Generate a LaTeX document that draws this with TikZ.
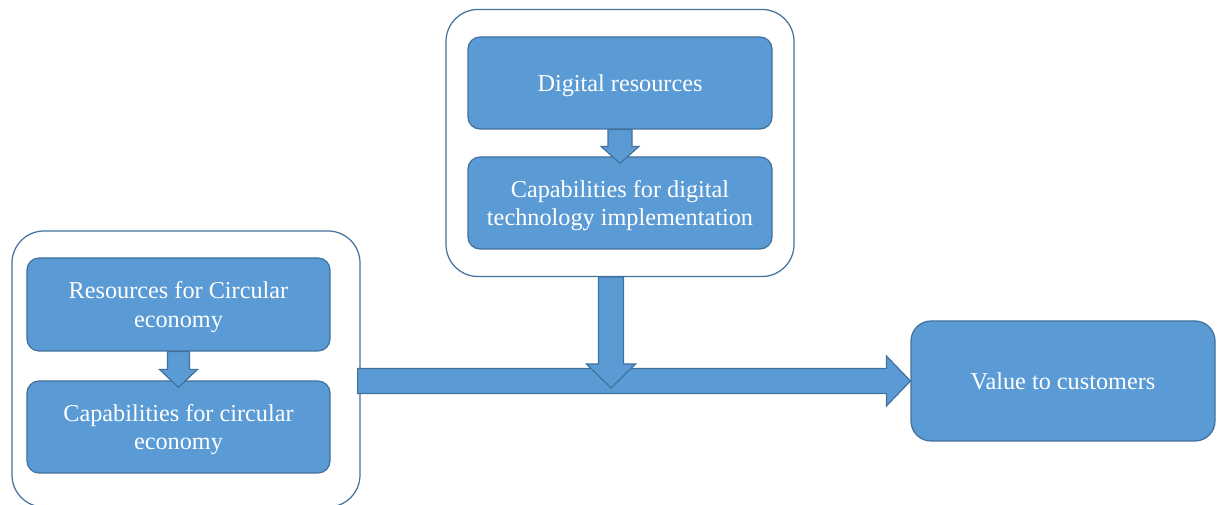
\documentclass[tikz,border=0pt]{standalone}
\usepackage{fontspec}
\setmainfont{Liberation Serif}
\definecolor{cap_fill}{RGB}{91, 155, 213}
\definecolor{cap_line}{RGB}{65, 113, 156}
\usetikzlibrary{calc}

% block arrow pointing down: from, tip, shaft half-width, head half-width, head length
\newcommand{\fatdown}[5]{%
  \draw[fat] ($(#1)+(-#3,0)$) -- ($(#2)+(-#3,-#5)$) -- ($(#2)+(-#4,-#5)$)
    -- (#2) -- ($(#2)+(#4,-#5)$) -- ($(#2)+(#3,-#5)$) -- ($(#1)+(#3,0)$) -- cycle;}

\begin{document}
\begin{tikzpicture}[x=0.2mm, y=-0.2mm,
        font=\fontsize{13.8}{16.4}\selectfont,
        box/.style={draw=cap_line, fill=cap_fill, text=white, line width=0.7pt,
                    rounded corners=2.4mm, align=center, inner sep=0pt,
                    text depth=-1.5pt,
                    minimum width=60.8mm, minimum height=18.4mm},
        frame/.style={draw=cap_line, fill=white, line width=0.7pt,
                      rounded corners=6.4mm, inner sep=0pt,
                      minimum width=69.6mm},
        fat/.style={draw=cap_line, fill=cap_fill, line width=0.7pt, line join=miter}]
        \useasboundingbox (0,0) rectangle (1217,505);
        % Containers
        \node[frame, minimum height=53.4mm] (tcon) at (620, 143) {};
        \node[frame, minimum height=55.2mm] (lcon) at (186, 369) {};
        % Digital column
        \node[box] (dres) at (620, 83) {Digital resources};
        \node[box] (cdig) at (620, 203)
          {Capabilities for digital\\technology implementation};
        % Circular column
        \node[box, minimum width=60.6mm, minimum height=18.6mm] (rce)
          at (178.5, 304.5) {Resources for Circular\\economy};
        \node[box, minimum width=60.6mm] (cce) at (178.5, 427)
          {Capabilities for circular\\economy};
        % Outcome
        \node[box, rounded corners=4mm, minimum height=24mm] (val)
          at (1063, 381) {Value to customers};
        % Main arrow to the outcome
        \coordinate (hstart) at ($(lcon.east |- val.west)+(-3,0)$);
        \draw[fat] ($(hstart)+(0,-12.5)$) -- ($(val.west)+(-24,-12.5)$)
          -- ($(val.west)+(-24,-25)$) -- (val.west) -- ($(val.west)+(-24,25)$)
          -- ($(val.west)+(-24,12.5)$) -- ($(hstart)+(0,12.5)$) -- cycle;
        % Digital branch joins it
        \coordinate (tout) at ($(tcon.south)+(-9,0)$);
        \coordinate (ttip) at ($(tout |- val.west)+(0,7)$);
        \fatdown{tout}{ttip}{12.5}{24.5}{24}
        % Inside the containers
        \coordinate (dtip) at ($(dres.south |- cdig.north)+(0,7)$);
        \fatdown{dres.south}{dtip}{12}{19}{17}
        \coordinate (ctip) at ($(rce.south |- cce.north)+(0,7)$);
        \fatdown{rce.south}{ctip}{11}{19}{18}
      \end{tikzpicture}
\end{document}
